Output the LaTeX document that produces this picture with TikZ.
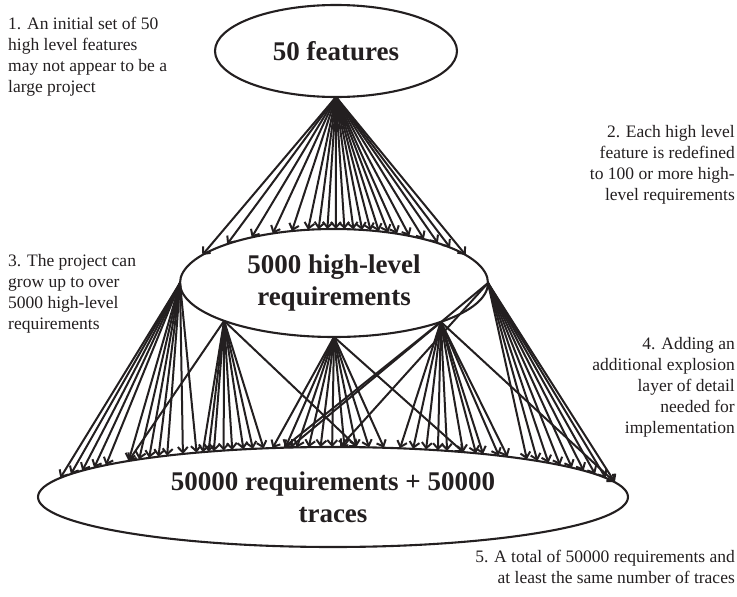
\documentclass[tikz,border=0pt]{standalone}
\usepackage{fontspec}
\setmainfont{Liberation Serif}
\usetikzlibrary{arrows.meta,shapes.geometric}
\definecolor{ink}{HTML}{231F20}

% fan of arrows from one anchor to points on the top rim of the lowest ellipse,
% given by their x positions
\newcommand\fanto[2]{%
  \foreach \X in {#2}{%
    \pgfmathsetmacro\tA{atan2(50*sqrt(1-((\X-333)/295)^2),\X-333)}%
    \draw[arr] (#1) -- (req.\tA);
  }%
}

\begin{document}
\begin{tikzpicture}[x=1pt,y=-1pt,
  bubble/.style={ellipse,draw=ink,line width=2.1pt,inner sep=0pt,outer sep=0pt,
    align=center,text=ink,font=\fontsize{27}{32}\selectfont\bfseries},
  note/.style={inner sep=0pt,text=ink,font=\fontsize{17.5}{21}\selectfont},
  arr/.style={draw=ink,line width=2pt,-{Straight Barb[length=5.5pt,width=10pt]}}]
\useasboundingbox (0,0) rectangle (737,597);

% the three levels
\node[bubble,minimum width=242pt,minimum height=92pt] (feat) at (336,51) {50 features};
\node[bubble,minimum width=308pt,minimum height=108pt] (hlr) at (334,283) {5000 high-level\\requirements};
\node[bubble,minimum width=590pt,minimum height=100pt] (req) at (333,497) {50000 requirements + 50000\\traces};

% features -> high-level requirements
\foreach \X in {200,227,251,272,291,307,318,327,335,344,353,362,370,378,387,396,408,422,436,448,464}{
  \pgfmathsetmacro\tA{atan2(54*sqrt(1-((\X-334)/154)^2),\X-334)}
  \draw[arr] (feat.south) -- (hlr.\tA);
}

% high-level requirements -> requirements
\fanto{hlr.west}{55,67,80,92,105,118,131,143,155,167,179,191}
\fanto{hlr.199.3}{128,198,205,212,220,230,241,251,262,357}
\fanto{hlr.south}{272,284,296,308,320,332,344,356,369,383,460}
\fanto{hlr.340.7}{283,400,411,423,435,447,458,471,483,495,506,614}
\fanto{hlr.east}{290,340,517,528,540,551,562,574,587,600,610}

% explanatory notes
\node[note,anchor=north west,align=left] (n1) at (8,17)
  {1. An initial set of 50\\high level features\\may not appear to be a\\large project};
\node[note,anchor=north east,align=right] (n2) at (735,125)
  {2. Each high level\\feature is redefined\\to 100 or more high-\\level requirements};
\node[note,anchor=north west,align=left] (n3) at (8,254)
  {3. The project can\\grow up to over\\5000 high-level\\requirements};
\node[note,anchor=north east,align=right] (n4) at (735,337)
  {4. Adding an\\additional explosion\\layer of detail\\needed for\\implementation};
\node[note,anchor=north east,align=right] (n5) at (735,550)
  {5. A total of 50000 requirements and\\at least the same number of traces};
\end{tikzpicture}
\end{document}
